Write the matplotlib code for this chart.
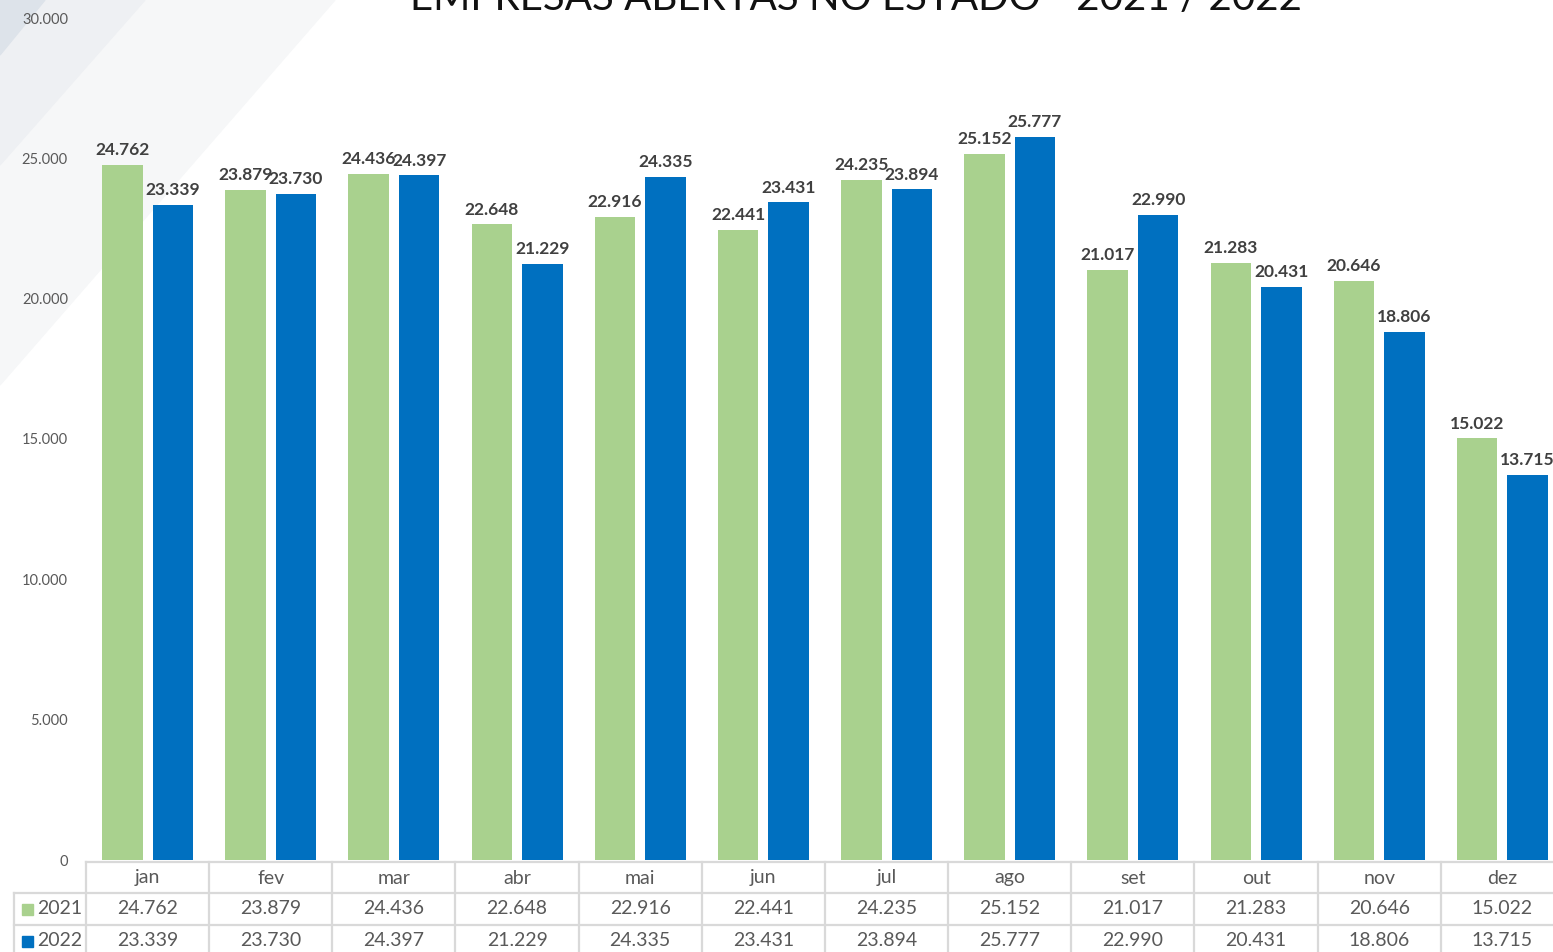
import matplotlib.pyplot as plt
import matplotlib.transforms as mtransforms
from matplotlib.patches import Polygon, Rectangle

meses = ["jan", "fev", "mar", "abr", "mai", "jun", "jul", "ago", "set", "out", "nov", "dez"]
v2021 = [24762, 23879, 24436, 22648, 22916, 22441, 24235, 25152, 21017, 21283, 20646, 15022]
v2022 = [23339, 23730, 24397, 21229, 24335, 23431, 23894, 25777, 22990, 20431, 18806, 13715]
anos = ["2021", "2022"]
yticks = [0, 5000, 10000, 15000, 20000, 25000, 30000]

verde = "#A9D18E"
azul = "#0070C0"
W, H = 1553, 952


def fx(px):
    return px / W


def fy(py):
    return 1 - py / H


def fmt(v):
    return f"{v:,}".replace(",", ".")


plt.rcParams['font.family'] = ['Lato', 'DejaVu Sans']
fig = plt.figure(figsize=(W / 100, H / 100), dpi=100)

# faixas diagonais do fundo
for pts, cor in [([(0, 0), (335, 0), (0, 385)], "#F6F7F8"),
                 ([(0, 0), (145, 0), (0, 165)], "#EEF0F3"),
                 ([(0, 0), (45, 0), (0, 55)], "#DDE3EA")]:
    fig.patches.append(Polygon([(fx(a), fy(b)) for a, b in pts], closed=True,
                               transform=fig.transFigure, color=cor, zorder=-5))

ax = fig.add_axes([fx(86), fy(860), fx(1564) - fx(86), fy(18) - fy(860)])
ax.patch.set_alpha(0)

x = list(range(len(meses)))
larg = 0.33
b1 = ax.bar([i - 0.205 for i in x], v2021, width=larg, color=verde, zorder=2)
b2 = ax.bar([i + 0.205 for i in x], v2022, width=larg, color=azul, zorder=2)

for barras, vals in [(b1, v2021), (b2, v2022)]:
    for b, v in zip(barras, vals):
        ax.annotate(fmt(v), (b.get_x() + b.get_width() / 2, v), xytext=(0, 7),
                    textcoords="offset points", ha="center", va="baseline",
                    fontsize=12.5, fontweight="bold", color="#404040")

ax.set_xlim(-0.5, len(meses) - 0.5)
ax.set_ylim(0, 30000)
ax.set_yticks(yticks)
ax.set_yticklabels([fmt(t) for t in yticks], fontsize=10.5, color="#595959")
ax.tick_params(axis="y", length=0, pad=13)
ax.set_xticks([])
for s in ax.spines.values():
    s.set_visible(False)

# tabela de dados
tr = mtransforms.blended_transform_factory(ax.transData, fig.transFigure)
cinza = "#D9D9D9"
lw = 1.6
ax.plot([-0.5, len(meses) - 0.5], [fy(862), fy(862)], transform=tr, color=cinza, lw=lw, clip_on=False)
for yy in [893, 925]:
    fig.add_artist(plt.Line2D([fx(14), 1], [fy(yy), fy(yy)], color=cinza, lw=lw))
fig.add_artist(plt.Line2D([fx(14), fx(14)], [fy(893), 0], color=cinza, lw=lw))
for i in range(len(meses) + 1):
    ax.plot([i - 0.5, i - 0.5], [fy(862), 0], transform=tr, color=cinza, lw=lw, clip_on=False)

for i, m in enumerate(meses):
    ax.text(i, fy(878), m, transform=tr, ha="center", va="center", fontsize=14, color="#595959")
    ax.text(i, fy(909), fmt(v2021[i]), transform=tr, ha="center", va="center", fontsize=14, color="#595959")
    ax.text(i, fy(941), fmt(v2022[i]), transform=tr, ha="center", va="center", fontsize=14, color="#595959")

for ano, cor, yy in [(anos[0], verde, 909), (anos[1], azul, 941)]:
    fig.patches.append(Rectangle((fx(22), fy(yy + 6)), fx(11), fy(yy - 5) - fy(yy + 6),
                                 transform=fig.transFigure, color=cor))
    fig.text(fx(37), fy(yy), ano, ha="left", va="center", fontsize=14, color="#595959")

fig.text(fx(856), fy(10), "EMPRESAS ABERTAS NO ESTADO - 2021 / 2022", ha="center",
         va="baseline", fontsize=29, color="#111111")

fig.savefig("out.png", dpi=100)
